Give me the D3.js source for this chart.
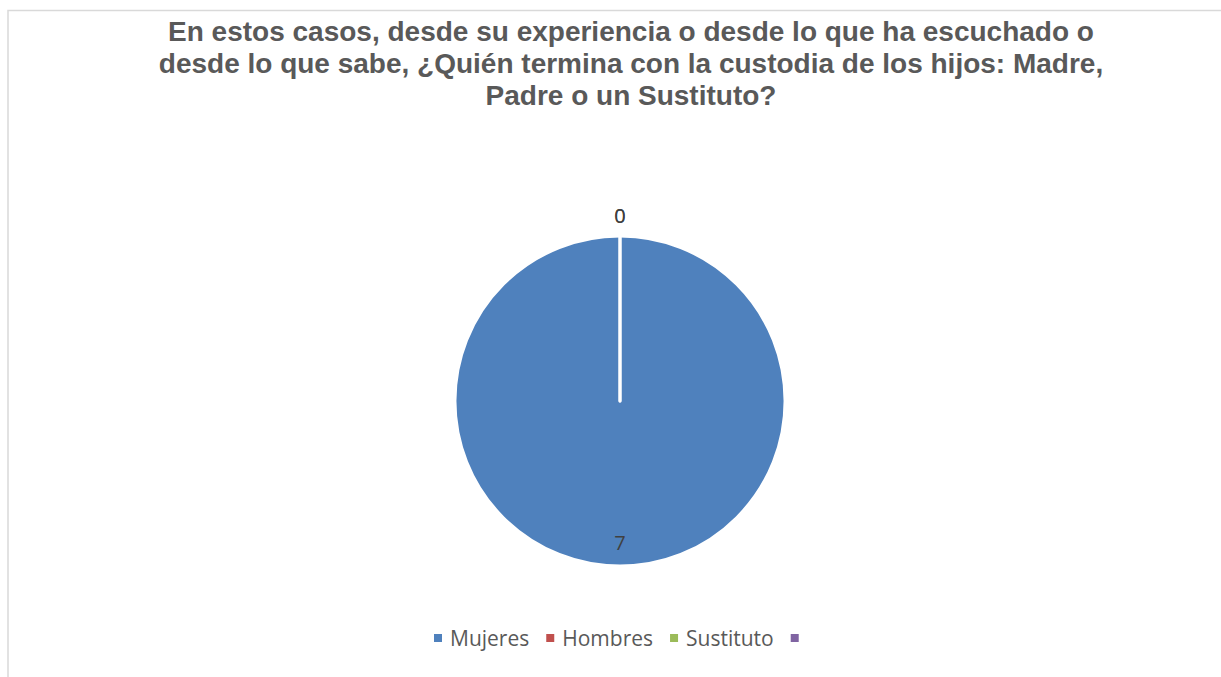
<!DOCTYPE html>
<html><head><meta charset="utf-8">
<script src="https://cdn.jsdelivr.net/npm/d3@7"></script>
<style>body{margin:0;background:#fff;}svg{display:block;}</style>
</head><body>
<svg id="c" width="1221" height="677"></svg>
<script>
const titleLines = ["En estos casos, desde su experiencia o desde lo que ha escuchado o",
  "desde lo que sabe, ¿Quién termina con la custodia de los hijos: Madre,",
  "Padre o un Sustituto?"];
const categories = ["Mujeres", "Hombres", "Sustituto", ""];
const values = [7, 0, 0, 0];
const showLabel = [true, true, true, false];
const colors = ["#4F81BD", "#C0504D", "#9BBB59", "#8064A2"];

const svg = d3.select("#c");
svg.append("rect").attr("x", 8).attr("y", 10.5).attr("width", 1260).attr("height", 700)
  .attr("fill", "#fff").attr("stroke", "#D9D9D9").attr("stroke-width", 1.5);

const title = svg.append("text").attr("text-anchor", "middle")
  .style("font-family", "'Liberation Sans', Arimo, Arial, sans-serif").attr("font-weight", "bold")
  .attr("font-size", 28).attr("fill", "#595959");
titleLines.forEach((t, i) => title.append("tspan").attr("x", 631).attr("y", 41 + i * 32).text(t));

const cx = 620, cy = 401, r = 165;
const data = categories.map((c, i) => ({cat: c, value: values[i], i}));
const pie = d3.pie().value(d => d.value).sort(null);
const arcs = pie(data);
const arc = d3.arc().innerRadius(0).outerRadius(r);
const g = svg.append("g").attr("transform", `translate(${cx},${cy})`);
g.selectAll("path").data(arcs.slice(0, 3)).join("path")
  .attr("d", arc).attr("fill", d => colors[d.data.i])
  .attr("stroke", "#fff").attr("stroke-width", 3).attr("stroke-linejoin", "round").attr("stroke-linecap", "round");

arcs.forEach(a => {
  if (!showLabel[a.data.i]) return;
  const mid = (a.startAngle + a.endAngle) / 2;
  const rad = a.value > 0 ? 142 : 185;
  const la = d3.arc().innerRadius(rad).outerRadius(rad).startAngle(mid).endAngle(mid);
  const [x, y] = la.centroid();
  g.append("text").attr("x", x).attr("y", y).attr("dy", "0.36em").attr("text-anchor", "middle")
    .style("font-family", "'Open Sans', sans-serif").attr("font-size", 20).attr("fill", "#404040")
    .text(a.value);
});

const leg = svg.append("g");
let x = 0;
categories.forEach((c, i) => {
  const it = leg.append("g");
  it.append("rect").attr("x", x).attr("y", -4).attr("width", 8).attr("height", 8).attr("fill", colors[i]);
  const t = it.append("text").attr("x", x + 16).attr("y", 0).attr("dy", "0.36em")
    .style("font-family", "'Open Sans', sans-serif").attr("font-size", 21).attr("fill", "#595959").text(c);
  const w = c ? t.node().getComputedTextLength() : 0;
  x += 16 + w + 17;
});
leg.attr("transform", `translate(${434},638)`);
</script>
</body></html>
